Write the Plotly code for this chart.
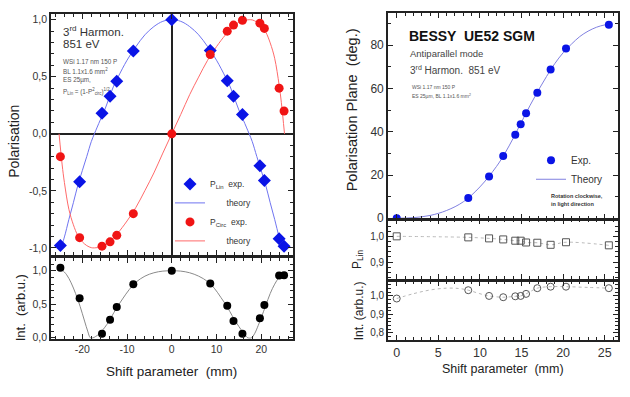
import plotly.graph_objects as go

# ---------------- data ----------------
# left panel: polarisation vs shift
shift_left = [-24.9, -20.6, -15.6, -13.8, -12.3, -8.6, 0.0, 8.6, 12.4, 13.8, 15.8, 19.7, 20.7, 24.0, 25.1]
p_lin_exp = [-0.98, -0.42, 0.18, 0.33, 0.46, 0.725, 1.0, 0.73, 0.465, 0.33, 0.17, -0.28, -0.41, -0.92, -0.985]
p_circ_exp = [-0.20, -0.91, -0.985, -0.947, -0.89, -0.70, 0.0, 0.695, 0.90, 0.953, 0.995, 0.97, 0.924, 0.40, 0.20]
int_left_exp = [1.044, 0.59, 0.06, 0.27, 0.46, 0.80, 1.0, 0.81, 0.48, 0.25, 0.06, 0.29, 0.49, 0.93, 0.935]

theory_x = [-25.2, -24.5, -24, -23, -22, -21, -20, -19, -18, -17.3, -16, -15, -14, -13, -12, -10, -8, -6, -4, -2,
            0, 2, 4, 6, 8, 10, 12, 13, 14, 15, 16, 17.3, 18, 19, 20, 21, 22, 23, 24, 24.5, 25.2]
p_lin_theory = [-1.0, -0.962, -0.904, -0.75, -0.604, -0.451, -0.323, -0.198, -0.069, 0.0, 0.12, 0.209, 0.315, 0.418,
                0.498, 0.645, 0.765, 0.868, 0.94, 0.986,
                1.0, 0.986, 0.94, 0.868, 0.765, 0.645, 0.498, 0.418, 0.315, 0.209, 0.12, 0.0, -0.069, -0.198, -0.323,
                -0.451, -0.604, -0.75, -0.904, -0.962, -1.0]
p_circ_theory = [0.0, -0.273, -0.427, -0.662, -0.797, -0.892, -0.946, -0.98, -0.998, -1.0, -0.993, -0.978, -0.949,
                 -0.908, -0.867, -0.764, -0.644, -0.497, -0.343, -0.169,
                 0.0, 0.169, 0.343, 0.497, 0.644, 0.764, 0.867, 0.908, 0.949, 0.978, 0.993, 1.0, 0.998, 0.98, 0.946,
                 0.892, 0.797, 0.662, 0.427, 0.273, 0.0]

int_theory_x = [-25.2, -24.5, -23.5, -22.5, -21.5, -20.5, -19.5, -18.8, -18.2, -17.6, -17, -16.2, -15.4, -14.5, -13.5,
                -12.3, -11, -9.5, -8, -6, -4, -2, 0, 2, 4, 6, 8, 9.5, 11, 12.4, 13.5, 14.5, 15.5, 16.3, 17, 17.8,
                18.5, 19.3, 20, 21, 22, 23, 24, 25.2]
int_theory = [1.03, 1.01, 0.94, 0.82, 0.66, 0.47, 0.25, 0.10, 0.0, 0.0, 0.02, 0.06, 0.12, 0.2, 0.31,
              0.45, 0.58, 0.72, 0.83, 0.92, 0.97, 0.995, 1.0, 0.995, 0.97, 0.92, 0.84, 0.74, 0.6, 0.46, 0.33, 0.22,
              0.12, 0.05, 0.0, 0.0, 0.06, 0.18, 0.3, 0.48, 0.66, 0.8, 0.9, 0.955]

# right panel: polarisation plane vs shift
shift_right = [0.0, 8.6, 11.1, 12.8, 14.25, 14.9, 15.55, 16.9, 18.5, 20.35, 25.5]
plane_exp = [0.0, 9.4, 19.3, 28.8, 38.6, 43.5, 48.6, 58.0, 68.8, 78.5, 89.5]
plane_theory_x = [0, 2, 4, 6, 8, 10, 12, 13, 14, 15, 16, 17, 18, 19, 20, 21, 22, 23, 24, 25, 25.6]
plane_theory = [0, 0.3, 1.3, 3.6, 7.6, 14.5, 24, 30, 37, 44.5, 52, 59, 65.5, 71.5, 76.5, 80.5, 84, 86.5, 88.3, 89.4, 89.6]
plin_right = [1.0, 0.996, 0.992, 0.988, 0.983, 0.983, 0.976, 0.975, 0.967, 0.977, 0.965]
int_right = [0.986, 1.031, 1.0, 0.993, 0.998, 1.0, 1.011, 1.042, 1.05, 1.05, 1.042]
int_guide_x = [0, 2, 4, 6, 7.5, 8.6, 10, 11.1, 12.8, 14.25, 14.9, 15.55, 16.9, 18.5, 20.35, 23, 25.5]
int_guide = [0.986, 1.012, 1.032, 1.042, 1.04, 1.031, 1.012, 1.0, 0.993, 0.998, 1.0, 1.011, 1.042, 1.05, 1.05, 1.046, 1.042]

left_xticks = [-20, -10, 0, 10, 20]
left_xlabels = ['-20', '-10', '0', '10', '20']
pol_yticks = [-1.0, -0.5, 0.0, 0.5, 1.0]
pol_ylabels = ['-1,0', '-0,5', '0,0', '0,5', '1,0']
intl_yticks = [0.0, 0.5, 1.0]
intl_ylabels = ['0,0', '0,5', '1,0']
right_xticks = [0, 5, 10, 15, 20, 25]
right_xlabels = ['0', '5', '10', '15', '20', '25']
plane_yticks = [0, 20, 40, 60, 80]
plane_ylabels = ['0', '20', '40', '60', '80']
plin_yticks = [0.9, 1.0]
plin_ylabels = ['0,9', '1,0']
intr_yticks = [0.8, 0.9, 1.0]
intr_ylabels = ['0,8', '0,9', '1,0']

# ---------------- figure ----------------
W, H = 630, 397
FONT = "Liberation Sans, Arial, sans-serif"


def px_x(p):
    return p / W


def px_y(p):
    return (H - p) / H


fig = go.Figure()

BLUE = '#0a14e6'
RED = '#f01414'

# left top
fig.add_trace(go.Scatter(x=theory_x, y=p_lin_theory, mode='lines', line=dict(color='#6f74f0', width=1, shape='spline'),
                         xaxis='x', yaxis='y', showlegend=False, name='theory'))
fig.add_trace(go.Scatter(x=theory_x, y=p_circ_theory, mode='lines', line=dict(color='#ff6a6a', width=1, shape='spline'),
                         xaxis='x', yaxis='y', showlegend=False, name='theory'))
fig.add_trace(go.Scatter(x=shift_left, y=p_lin_exp, mode='markers', marker=dict(symbol='diamond', size=10, color=BLUE),
                         xaxis='x', yaxis='y', name='P<sub>Lin</sub>  exp.', legend='legend', legendrank=1))
fig.add_trace(go.Scatter(x=[None], y=[None], mode='lines', line=dict(color='#6f74f0', width=1),
                         xaxis='x', yaxis='y', name='       theory', legend='legend', legendrank=2))
fig.add_trace(go.Scatter(x=shift_left, y=p_circ_exp, mode='markers', marker=dict(symbol='circle', size=9, color=RED),
                         xaxis='x', yaxis='y', name='P<sub>Circ</sub>  exp.', legend='legend', legendrank=3))
fig.add_trace(go.Scatter(x=[None], y=[None], mode='lines', line=dict(color='#ff6a6a', width=1),
                         xaxis='x', yaxis='y', name='       theory', legend='legend', legendrank=4))

# left bottom
fig.add_trace(go.Scatter(x=int_theory_x, y=int_theory, mode='lines', line=dict(color='#8a8a8a', width=1, shape='spline'),
                         xaxis='x2', yaxis='y2', showlegend=False))
fig.add_trace(go.Scatter(x=shift_left, y=int_left_exp, mode='markers', marker=dict(size=8, color='#000000'),
                         xaxis='x2', yaxis='y2', showlegend=False))

# right top
fig.add_trace(go.Scatter(x=plane_theory_x, y=plane_theory, mode='lines',
                         line=dict(color='#8080e0', width=1, shape='spline'),
                         xaxis='x3', yaxis='y3', name='Theory', legend='legend2', legendrank=2))
fig.add_trace(go.Scatter(x=shift_right, y=plane_exp, mode='markers', marker=dict(size=8, color=BLUE),
                         xaxis='x3', yaxis='y3', name='Exp.', legend='legend2', legendrank=1))

# right middle
fig.add_trace(go.Scatter(x=shift_right, y=plin_right, mode='lines+markers',
                         line=dict(color='#b8b8b8', width=1, dash='dot', shape='spline'),
                         marker=dict(symbol='square-open', size=7, color='#555555', line=dict(width=1)),
                         xaxis='x4', yaxis='y4', showlegend=False))

# right bottom
fig.add_trace(go.Scatter(x=int_guide_x, y=int_guide, mode='lines',
                         line=dict(color='#b8b8b8', width=1, dash='dot', shape='spline'),
                         xaxis='x5', yaxis='y5', showlegend=False))
fig.add_trace(go.Scatter(x=shift_right, y=int_right, mode='markers',
                         marker=dict(symbol='circle-open', size=7, color='#555555', line=dict(width=1)),
                         xaxis='x5', yaxis='y5', showlegend=False))


def axis(domain, rng, tickvals, ticktext, minor_dtick, show_labels, size, anchor, zeroline=False):
    return dict(domain=domain, range=rng, anchor=anchor, tickmode='array', tickvals=tickvals, ticktext=ticktext,
                ticks='inside', ticklen=5, tickwidth=1, tickcolor='#222',
                minor=dict(tickmode='linear', tick0=0, dtick=minor_dtick, ticks='inside', ticklen=3,
                           tickwidth=1, tickcolor='#222'),
                showline=True, linecolor='#222', linewidth=1.6, mirror='allticks',
                showgrid=False, zeroline=zeroline, zerolinecolor='#222', zerolinewidth=1.6,
                showticklabels=show_labels, tickfont=dict(size=size, color='#333', family=FONT))


LX = [px_x(51), px_x(293)]
RX = [px_x(388), px_x(618)]

fig.update_layout(
    width=W, height=H, margin=dict(l=0, r=0, t=0, b=0),
    paper_bgcolor='white', plot_bgcolor='white',
    font=dict(family=FONT, color='#333'),
    xaxis=axis(LX, [-27, 27.1], left_xticks, left_xlabels, 2, False, 10.5, 'y', zeroline=True),
    yaxis=axis([px_y(259), px_y(14)], [-1.063, 1.052], pol_yticks, pol_ylabels, 0.1, True, 10.5, 'x',
               zeroline=True),
    xaxis2=axis(LX, [-27, 27.1], left_xticks, left_xlabels, 2, True, 10.5, 'y2'),
    yaxis2=axis([px_y(344), px_y(262)], [-0.015, 1.19], intl_yticks, intl_ylabels, 0.1, True, 10.5, 'x2'),
    xaxis3=axis(RX, [-1.05, 26.6], right_xticks, right_xlabels, 1, False, 12, 'y3'),
    yaxis3=axis([px_y(222.5), px_y(13)], [-0.4, 95], plane_yticks, plane_ylabels, 10, True, 12, 'x3'),
    xaxis4=axis(RX, [-1.05, 26.6], right_xticks, right_xlabels, 1, False, 12, 'y4'),
    yaxis4=axis([px_y(283), px_y(223)], [0.835, 1.065], plin_yticks, plin_ylabels, 0.02, True, 10, 'x4'),
    xaxis5=axis(RX, [-1.05, 26.6], right_xticks, right_xlabels, 1, True, 12.5, 'y5'),
    yaxis5=axis([px_y(345), px_y(286)], [0.763, 1.077], intr_yticks, intr_ylabels, 0.02, True, 10, 'x5'),
    legend=dict(x=px_x(170), y=px_y(172), xanchor='left', yanchor='top', bgcolor='rgba(0,0,0,0)',
                font=dict(size=8.5, color='#333', family=FONT), itemwidth=30, tracegroupgap=0,
                traceorder='normal'),
    legend2=dict(x=px_x(531), y=px_y(148), xanchor='left', yanchor='top', bgcolor='rgba(0,0,0,0)',
                 font=dict(size=10, color='#333', family=FONT), itemwidth=30, traceorder='normal'),
)

ann = []


def text(x, y, t, size, color='#333', angle=0, xanchor='left', bold=False):
    if bold:
        t = '<b>' + t + '</b>'
    ann.append(dict(x=px_x(x), y=px_y(y), xref='paper', yref='paper', text=t, showarrow=False,
                    xanchor=xanchor, yanchor='middle', textangle=angle,
                    font=dict(size=size, color=color, family=FONT)))


# axis titles
text(14, 144, 'Polarisation', 14, '#222', -90, 'center')
text(20, 313, 'Int.  (arb.u.)', 13, '#222', -90, 'center')
text(171.5, 377, 'Shift parameter  (mm)', 13.5, '#222', 0, 'center')
text(352, 112, 'Polarisation Plane  (deg.)', 14.5, '#222', -90, 'center')
text(358, 263, 'P<sub>Lin</sub>', 12, '#222', -90, 'center')
text(359, 316, 'Int. (arb.u.)', 12, '#222', -90, 'center')
text(503, 375, 'Shift parameter  (mm)', 12.5, '#222', 0, 'center')

# left annotations
text(61, 31, '3<sup>rd</sup> Harmon.', 11.5, '#333')
text(61, 45, '851 eV', 11.5, '#333')
text(61, 62, 'WSi 1.17 nm 150 P', 6.3, '#555')
text(61, 72, 'BL 1.1x1.6 mm<sup>2</sup>', 6.3, '#555')
text(61, 81, 'ES 25µm,', 6.3, '#555')
text(61, 93, 'P<sub>Lin</sub> = (1-P<sup>2</sup><sub>circ</sub>)<sup>1/2</sup>', 6.3, '#555')

# right annotations
text(407, 37, 'BESSY  UE52 SGM', 14, '#111', bold=True)
text(408, 54, 'Antiparallel mode', 9.5, '#444')
text(408, 71, '3<sup>rd</sup> Harmon.  851 eV', 10, '#444')
text(410, 88, 'WSi 1.17 nm 150 P', 5, '#555')
text(410, 97, 'ES 25µm, BL 1.1x1.6 mm<sup>2</sup>', 5, '#555')
text(549, 199, 'Rotation clockwise,', 5.5, '#333', bold=True)
text(549, 207, 'in light direction', 5.5, '#333', bold=True)

fig.update_layout(annotations=ann)

fig.write_html("out.html", config={'displayModeBar': False},
               post_script="document.body.style.margin='0px';document.body.style.padding='0px';"
                           "document.body.style.overflow='hidden';")
